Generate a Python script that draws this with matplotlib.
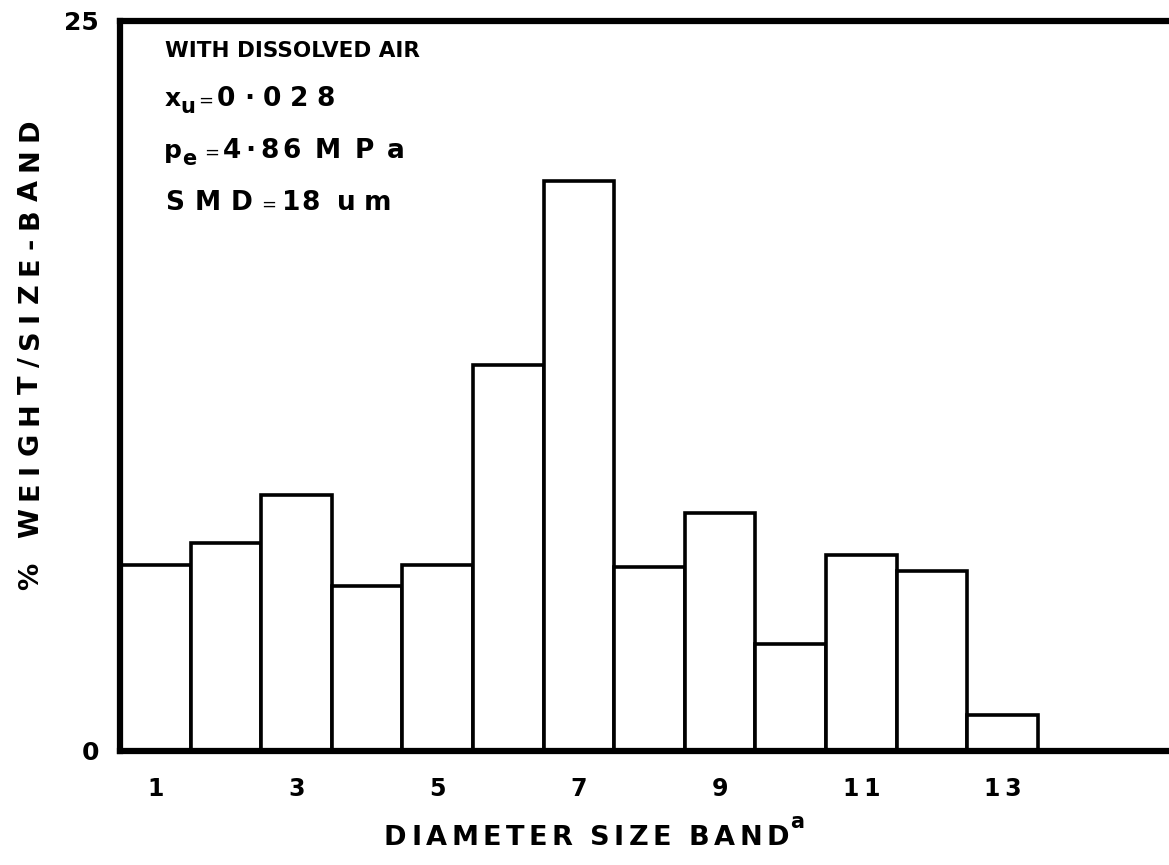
import matplotlib
matplotlib.use('Agg')
import matplotlib.pyplot as plt
import numpy as np

# % weight per diameter size band
bands = np.arange(1, 14)
weight_pct = [6.35, 7.1, 8.75, 5.65, 6.35, 13.2, 19.5, 6.3, 8.15, 3.65, 6.7, 6.15, 1.2]
xtick_bands = [1, 3, 5, 7, 9, 11, 13]
ytick_vals = [0, 25]

plt.rcParams['font.family'] = 'DejaVu Sans'
plt.rcParams['font.weight'] = 'bold'

W, H = 1169, 865
fig = plt.figure(figsize=(W / 100, H / 100), dpi=100)
renderer = fig.canvas.get_renderer()

# axes box in pixel terms: left spine ~120, floor ~750, top ~21
x0, y0, y1 = 120, 750.5, 21
band_px = 70.6
ax = fig.add_axes([x0 / W, 1 - y0 / H, 1 - x0 / W, (y0 - y1) / H])

ax.bar(bands, weight_pct, width=1.0, color='white', edgecolor='black',
       linewidth=2.6)

ax.set_xlim(0.5, 0.5 + (W - x0) / band_px)
ax.set_ylim(0, 25)

for side in ['left', 'top', 'bottom']:
    ax.spines[side].set_linewidth(4.5)
    ax.spines[side].set_capstyle('projecting')
ax.spines['right'].set_visible(False)

ax.set_xticks(xtick_bands)
ax.set_xticklabels(['\u2009'.join(str(b)) for b in xtick_bands])
ax.set_yticks(ytick_vals)
ax.set_yticklabels([str(v) for v in ytick_vals])
ax.tick_params(axis='x', length=0, labelsize=17, pad=19)
ax.tick_params(axis='y', length=0, labelsize=18, pad=15)


def char_w(ch, size, weight):
    if ch == ' ':
        return 0.3 * size * 100 / 72
    t = fig.text(0, 0, ch, fontsize=size, fontweight=weight)
    w = t.get_window_extent(renderer).width
    t.remove()
    return w


def tracked(start, end, base, s, size=16, weight='bold', vertical=False):
    # spread the letters of s evenly between start and end (pixels),
    # like the wide hand lettering of the original
    widths = [char_w(c, size, weight) for c in s]
    gap = (abs(end - start) - sum(widths)) / max(len(s) - 1, 1)
    pos = start
    for c, w in zip(s, widths):
        if c != ' ':
            if vertical:
                fig.text(base / W, 1 - pos / H, c, fontsize=size, fontweight=weight,
                         rotation=90, rotation_mode='anchor', ha='left', va='baseline')
            else:
                fig.text(pos / W, 1 - base / H, c, fontsize=size, fontweight=weight,
                         ha='left', va='baseline')
        pos += (w + gap) * (-1 if vertical else 1)


def put(xpx, ypx, s, size=16, weight='bold'):
    fig.text(xpx / W, 1 - ypx / H, s, ha='left', va='baseline', fontsize=size,
             fontweight=weight)


# axis titles
tracked(590, 118, 38, "% WEIGHT/SIZE-BAND", 19.5, vertical=True)
tracked(384, 789, 845, "DIAMETER SIZE BAND", 19.5)
put(790, 828, "a", 15)

# annotation block, top left
put(165, 57, "WITH DISSOLVED AIR", 15.5)

put(165, 106, "x", 18)
put(180, 113, "u", 15)
put(198, 106, "=", 13, 'normal')
tracked(217, 335, 106, "0·028", 19)

put(164, 158, "p", 18)
put(182, 165, "e", 15)
put(204, 158, "=", 13, 'normal')
tracked(223, 301, 158, "4·86", 19)
tracked(315, 405, 158, "MPa", 19)

tracked(165, 253, 210, "SMD", 19)
put(261, 210, "=", 13, 'normal')
tracked(282, 320, 210, "18", 19)
tracked(337, 391, 210, "um", 19)

fig.savefig('out.png', dpi=100)
